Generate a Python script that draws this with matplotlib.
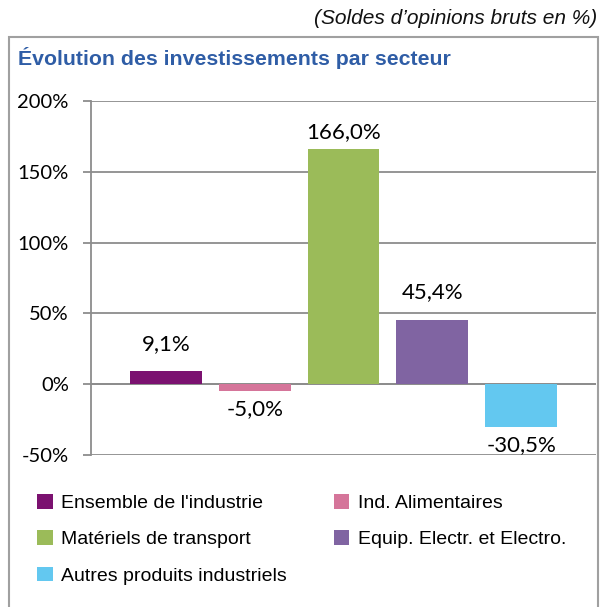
import matplotlib.pyplot as plt
from matplotlib.patches import Rectangle

# données
secteurs = ["Ensemble de l'industrie", 'Ind. Alimentaires', 'Matériels de transport',
            'Equip. Electr. et Electro.', 'Autres produits industriels']
valeurs = [9.1, -5.0, 166.0, 45.4, -30.5]
couleurs = ['#7B1170', '#D5759A', '#9BBB59', '#8064A2', '#63C8F0']
yticks = [-50, 0, 50, 100, 150, 200]

fig = plt.figure(figsize=(6.03, 6.07), dpi=100)
W, H = 603, 607

# cadre gris
fig.add_artist(Rectangle((9 / W, -0.01), (598 - 9) / W, 1 - 37 / H + 0.01,
                         transform=fig.transFigure, fill=False,
                         edgecolor='#A0A0A0', linewidth=1.5))

fig.text(597 / W, 1 - 19 / H, "(Soldes d\u2019opinions bruts en %)", ha='right', va='center',
         fontsize=15, style='italic', family='Liberation Sans', color='#111111')
fig.text(18 / W, 1 - 58 / H, 'Évolution des investissements par secteur', ha='left', va='center',
         fontsize=15.3, fontweight='bold', family='Liberation Sans', color='#2F5DA6')

ax = fig.add_axes([91 / W, 1 - 455 / H, (596 - 91) / W, (455 - 101) / H])
x = list(range(len(valeurs)))
bars = ax.bar(x, valeurs, width=0.81, color=couleurs, zorder=3)

ax.set_ylim(-50, 200)
ax.set_xlim(-0.843, 4.843)
ax.set_yticks(yticks)
ax.set_yticklabels([f'{t}%' for t in yticks], fontsize=14.5, family='Lato')
ax.set_xticks([])
ax.yaxis.grid(True, color='#8C8C8C', linewidth=1.3)
ax.axhline(0, color='#8C8C8C', linewidth=1.3, zorder=2)
for s in ['top', 'right', 'bottom']:
    ax.spines[s].set_visible(False)
ax.spines['left'].set_color('#8C8C8C')
ax.spines['left'].set_linewidth(1.3)
ax.tick_params(axis='y', length=6, color='#8C8C8C', width=1.3, pad=10)

for xi, v in zip(x, valeurs):
    lab = f'{v:.1f}%'.replace('.', ',')
    if v >= 0:
        # étiquette au-dessus, ramenée sous le haut du graphique
        ax.text(xi, min(v + 19.5, 178), lab, ha='center', va='center', fontsize=16, family='Lato')
    else:
        ax.annotate(lab, (xi, v), xytext=(0, -13), textcoords='offset points',
                    ha='center', va='center', fontsize=16, family='Lato')

ordre = [0, 2, 4, 1, 3]
fig.legend([bars[i] for i in ordre], [secteurs[i] for i in ordre], ncol=2,
           loc='upper left', bbox_to_anchor=(37 / W, 1 - 494 / H), frameon=False,
           prop={'family': 'Liberation Sans', 'size': 14}, handlelength=0.8, handleheight=0.8,
           handletextpad=0.45, labelspacing=0.93, columnspacing=2.4, borderaxespad=0,
           borderpad=0)

fig.savefig('out.png', dpi=100)
